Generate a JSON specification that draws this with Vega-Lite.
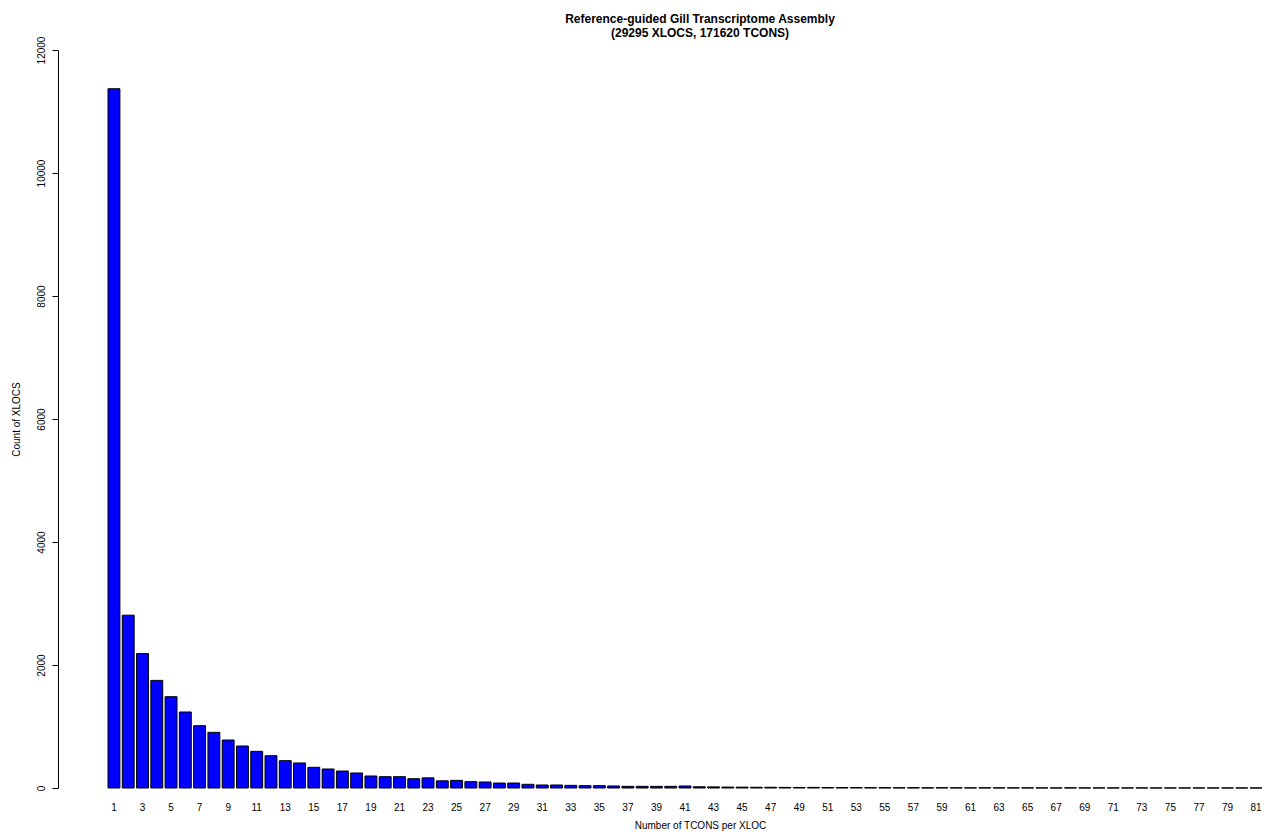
{
  "$schema": "https://vega.github.io/schema/vega-lite/v6.json",
  "autosize": "none",
  "width": 1208,
  "height": 738,
  "padding": {"left": 58, "top": 50, "right": 0, "bottom": 49},
  "background": "white",
  "title": {
    "text": ["Reference-guided Gill Transcriptome Assembly", "(29295 XLOCS, 171620 TCONS)"],
    "font": "Liberation Sans",
    "fontSize": 12,
    "fontWeight": "bold",
    "color": "black",
    "anchor": "middle",
    "frame": "group",
    "dx": 38,
    "offset": -4,
    "lineHeight": 14
  },
  "config": {
    "view": {"stroke": null},
    "axis": {"grid": false, "labelFont": "Liberation Sans", "titleFont": "Liberation Sans", "labelColor": "black", "titleColor": "black", "titleFontWeight": "normal"}
  },
  "data": {
    "values": [
      {"tcons": 1, "xlocs": 11370}, {"tcons": 2, "xlocs": 2810}, {"tcons": 3, "xlocs": 2185},
      {"tcons": 4, "xlocs": 1750}, {"tcons": 5, "xlocs": 1485}, {"tcons": 6, "xlocs": 1236},
      {"tcons": 7, "xlocs": 1013}, {"tcons": 8, "xlocs": 905}, {"tcons": 9, "xlocs": 780},
      {"tcons": 10, "xlocs": 683}, {"tcons": 11, "xlocs": 596}, {"tcons": 12, "xlocs": 525},
      {"tcons": 13, "xlocs": 444}, {"tcons": 14, "xlocs": 407}, {"tcons": 15, "xlocs": 336},
      {"tcons": 16, "xlocs": 309}, {"tcons": 17, "xlocs": 276}, {"tcons": 18, "xlocs": 244},
      {"tcons": 19, "xlocs": 195}, {"tcons": 20, "xlocs": 184}, {"tcons": 21, "xlocs": 184},
      {"tcons": 22, "xlocs": 151}, {"tcons": 23, "xlocs": 165}, {"tcons": 24, "xlocs": 117},
      {"tcons": 25, "xlocs": 124}, {"tcons": 26, "xlocs": 103}, {"tcons": 27, "xlocs": 98},
      {"tcons": 28, "xlocs": 81}, {"tcons": 29, "xlocs": 81}, {"tcons": 30, "xlocs": 60},
      {"tcons": 31, "xlocs": 49}, {"tcons": 32, "xlocs": 49}, {"tcons": 33, "xlocs": 43},
      {"tcons": 34, "xlocs": 38}, {"tcons": 35, "xlocs": 38}, {"tcons": 36, "xlocs": 33},
      {"tcons": 37, "xlocs": 27}, {"tcons": 38, "xlocs": 27}, {"tcons": 39, "xlocs": 27},
      {"tcons": 40, "xlocs": 27}, {"tcons": 41, "xlocs": 33}, {"tcons": 42, "xlocs": 20},
      {"tcons": 43, "xlocs": 18}, {"tcons": 44, "xlocs": 15}, {"tcons": 45, "xlocs": 14},
      {"tcons": 46, "xlocs": 12}, {"tcons": 47, "xlocs": 12}, {"tcons": 48, "xlocs": 10},
      {"tcons": 49, "xlocs": 9}, {"tcons": 50, "xlocs": 10}, {"tcons": 51, "xlocs": 8},
      {"tcons": 52, "xlocs": 7}, {"tcons": 53, "xlocs": 8}, {"tcons": 54, "xlocs": 6},
      {"tcons": 55, "xlocs": 6}, {"tcons": 56, "xlocs": 5}, {"tcons": 57, "xlocs": 5},
      {"tcons": 58, "xlocs": 4}, {"tcons": 59, "xlocs": 5}, {"tcons": 60, "xlocs": 4},
      {"tcons": 61, "xlocs": 3}, {"tcons": 62, "xlocs": 4}, {"tcons": 63, "xlocs": 3},
      {"tcons": 64, "xlocs": 3}, {"tcons": 65, "xlocs": 3}, {"tcons": 66, "xlocs": 2},
      {"tcons": 67, "xlocs": 2}, {"tcons": 68, "xlocs": 3}, {"tcons": 69, "xlocs": 2},
      {"tcons": 70, "xlocs": 2}, {"tcons": 71, "xlocs": 2}, {"tcons": 72, "xlocs": 2},
      {"tcons": 73, "xlocs": 2}, {"tcons": 74, "xlocs": 1}, {"tcons": 75, "xlocs": 1},
      {"tcons": 76, "xlocs": 1}, {"tcons": 77, "xlocs": 1}, {"tcons": 78, "xlocs": 1},
      {"tcons": 79, "xlocs": 1}, {"tcons": 80, "xlocs": 1}, {"tcons": 81, "xlocs": 1}
    ]
  },
  "mark": {"type": "bar", "fill": "#0000FF", "stroke": "black", "strokeWidth": 1},
  "encoding": {
    "x": {
      "field": "tcons",
      "type": "ordinal",
      "sort": "ascending",
      "scale": {"range": [50, 1204], "paddingInner": 0.1667, "paddingOuter": 0},
      "axis": {
        "title": "Number of TCONS per XLOC",
        "titleFontSize": 10,
        "titleX": 642,
        "titlePadding": 8,
        "labelAngle": 0,
        "labelFontSize": 10,
        "labelPadding": 14,
        "labelOverlap": false,
        "labelExpr": "datum.value % 2 == 1 ? datum.label : ''",
        "domain": false,
        "ticks": false
      }
    },
    "y": {
      "field": "xlocs",
      "type": "quantitative",
      "scale": {"domain": [0, 12000], "nice": false},
      "axis": {
        "title": "Count of XLOCS",
        "titleFontSize": 10,
        "titlePadding": 15,
        "values": [0, 2000, 4000, 6000, 8000, 10000, 12000],
        "format": "d",
        "labelAngle": -90,
        "labelFontSize": 10,
        "labelPadding": 6,
        "tickSize": 6,
        "tickColor": "black",
        "domainColor": "black",
        "labelBaseline": "bottom",
        "labelAlign": "center"
      }
    }
  }
}
